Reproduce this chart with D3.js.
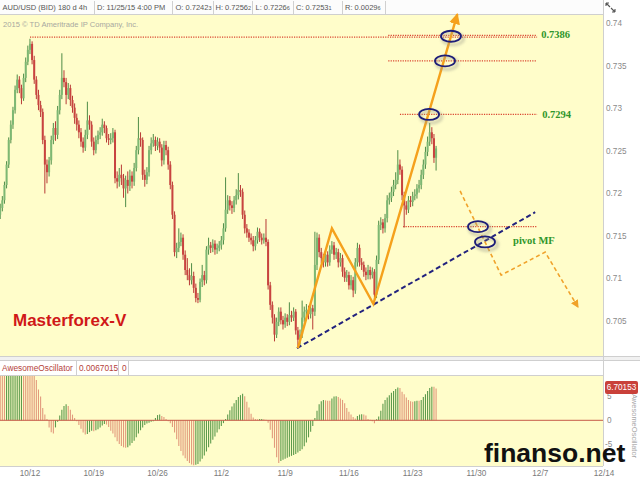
<!DOCTYPE html>
<html><head><meta charset="utf-8">
<script src="https://cdn.jsdelivr.net/npm/d3@7"></script>
<style>html,body{margin:0;padding:0;background:#fff;}svg{display:block;}</style>
</head><body>
<svg id="c" width="640" height="480"></svg>
<script>
// ---- DATA (prices in units of 0.0001) ----
const open = [7175,7183,7192,7210,7234,7263,7281,7298,7322,7334,
7324,7312,7336,7355,7369,7376,7357,7334,7316,7304,
7296,7263,7234,7225,7239,7263,7277,7269,7298,7316,
7336,7331,7316,7324,7310,7301,7289,7281,7272,7261,
7254,7269,7286,7281,7261,7251,7263,7269,7272,7281,
7277,7265,7263,7265,7272,7218,7214,7222,7218,7206,
7216,7209,7221,7214,7230,7251,7265,7263,7222,7216,
7225,7251,7259,7263,7256,7261,7254,7239,7257,7251,
7234,7210,7175,7131,7136,7143,7148,7128,7110,7104,
7098,7103,7089,7077,7075,7096,7104,7098,7134,7139,
7136,7141,7134,7136,7139,7145,7159,7181,7192,7186,
7183,7192,7198,7204,7202,7175,7159,7154,7148,7145,
7138,7145,7155,7148,7145,7148,7143,7092,7069,7054,
7034,7049,7061,7051,7046,7054,7049,7057,7054,7061,
7039,7028,7034,7054,7061,7063,7058,7065,7061,7116,
7148,7131,7124,7119,7128,7119,7134,7139,7128,7131,
7119,7124,7108,7101,7104,7092,7098,7086,7119,7136,
7119,7116,7108,7104,7110,7104,7108,7081,7122,7163,
7166,7159,7171,7192,7195,7202,7210,7216,7234,7228,
7198,7186,7181,7192,7190,7197,7199,7206,7210,7222,
7234,7249,7261,7272,7265,7242];
const high = [7188,7197,7214,7238,7266,7286,7302,7327,7340,7338,
7328,7341,7360,7374,7382,7379,7362,7338,7322,7309,
7300,7268,7240,7243,7268,7283,7285,7303,7322,7365,
7345,7336,7330,7328,7315,7306,7294,7286,7277,7266,
7275,7308,7292,7285,7266,7268,7274,7278,7288,7285,
7280,7270,7271,7277,7275,7226,7230,7234,7223,7221,
7226,7228,7226,7236,7256,7290,7272,7266,7228,7231,
7256,7266,7270,7267,7266,7265,7258,7262,7262,7255,
7238,7214,7179,7142,7159,7154,7152,7133,7124,7112,
7118,7108,7094,7083,7100,7116,7109,7138,7148,7143,
7146,7145,7141,7144,7150,7165,7219,7198,7197,7191,
7197,7205,7224,7210,7206,7180,7164,7158,7153,7150,
7150,7160,7159,7153,7153,7170,7146,7096,7073,7058,
7054,7066,7066,7056,7059,7058,7072,7062,7066,7064,
7043,7040,7074,7067,7070,7068,7072,7069,7155,7154,
7152,7136,7129,7133,7132,7139,7144,7143,7136,7135,
7130,7128,7113,7110,7108,7104,7102,7124,7142,7140,
7124,7120,7113,7116,7114,7113,7111,7127,7168,7172,
7170,7176,7198,7201,7208,7216,7225,7251,7240,7232,
7202,7191,7197,7197,7202,7205,7211,7216,7228,7240,
7255,7267,7283,7278,7270,7256];
const low = [7170,7179,7188,7206,7230,7259,7276,7294,7318,7318,
7305,7309,7331,7351,7364,7352,7329,7311,7298,7290,
7258,7200,7212,7220,7234,7258,7262,7264,7293,7311,
7325,7305,7311,7303,7295,7282,7274,7265,7255,7248,
7250,7264,7275,7255,7245,7247,7258,7264,7268,7271,
7260,7257,7258,7260,7212,7206,7208,7210,7195,7184,
7200,7203,7206,7209,7226,7246,7255,7216,7208,7211,
7220,7246,7255,7250,7251,7248,7232,7234,7245,7228,
7205,7170,7126,7124,7131,7138,7122,7104,7098,7092,
7093,7083,7072,7071,7072,7090,7092,7094,7128,7130,
7131,7128,7129,7132,7134,7140,7155,7176,7180,7176,
7178,7187,7193,7196,7170,7153,7148,7143,7140,7132,
7133,7141,7143,7140,7141,7138,7087,7063,7047,7026,
7030,7044,7046,7040,7042,7044,7045,7049,7050,7034,
7018,7022,7030,7049,7056,7052,7053,7040,7056,7110,
7125,7118,7113,7114,7114,7115,7129,7122,7123,7113,
7114,7102,7096,7096,7087,7087,7078,7082,7114,7114,
7110,7102,7098,7099,7099,7100,7071,7077,7117,7157,
7153,7154,7166,7187,7190,7197,7205,7211,7222,7192,
7160,7175,7177,7184,7185,7192,7194,7201,7205,7217,
7229,7244,7256,7258,7236,7227];
const close = [7183,7192,7210,7234,7263,7281,7298,7322,7334,7324,
7312,7336,7355,7369,7376,7357,7334,7316,7304,7296,
7263,7234,7225,7239,7263,7277,7269,7298,7316,7336,
7331,7316,7324,7310,7301,7289,7281,7272,7261,7254,
7269,7286,7281,7261,7251,7263,7269,7272,7281,7277,
7265,7263,7265,7272,7218,7214,7222,7218,7206,7216,
7209,7221,7214,7230,7251,7265,7263,7222,7216,7225,
7251,7259,7263,7256,7261,7254,7239,7257,7251,7234,
7210,7175,7131,7136,7143,7148,7128,7110,7104,7098,
7103,7089,7077,7075,7096,7104,7098,7134,7139,7136,
7141,7134,7136,7139,7145,7159,7181,7192,7186,7183,
7192,7198,7204,7202,7175,7159,7154,7148,7145,7138,
7145,7155,7148,7145,7148,7143,7092,7069,7054,7034,
7049,7061,7051,7046,7054,7049,7057,7054,7061,7039,
7028,7034,7054,7061,7063,7058,7065,7061,7116,7148,
7131,7124,7119,7128,7119,7134,7139,7128,7131,7119,
7124,7108,7101,7104,7092,7098,7086,7119,7136,7119,
7116,7108,7104,7110,7104,7108,7081,7122,7163,7166,
7159,7171,7192,7195,7202,7210,7216,7234,7228,7198,
7186,7181,7192,7190,7197,7199,7206,7210,7222,7234,
7249,7261,7272,7265,7242,7253];
// Awesome Oscillator (x1000)
const ao = [13.0,12.8,12.6,12.7,12.9,13.2,13.5,13.8,14.0,14.1,
14.2,14.1,13.9,13.5,13.0,12.4,10.5,8.5,6.5,5.0,
2.6,1.2,0.3,-1.5,-2.5,-2.8,-1.5,-0.3,1.0,2.2,
3.0,3.4,3.0,2.2,1.2,0.5,-0.2,-1.0,-1.8,-2.6,
-3.0,-2.9,-2.5,-2.2,-2.3,-2.1,-1.9,-1.5,-1.1,-0.8,
-0.9,-1.4,-2.2,-2.8,-3.6,-4.4,-5.0,-5.4,-5.7,-5.8,
-5.7,-5.3,-4.8,-4.3,-3.6,-2.8,-2.1,-1.5,-1.0,-0.7,
-0.5,-0.3,-0.2,0.5,1.1,1.2,0.9,0.7,0.3,-0.2,
-0.6,-1.4,-2.6,-4.0,-5.4,-6.5,-7.4,-8.0,-8.6,-9.0,
-9.3,-9.5,-9.4,-9.2,-8.7,-8.1,-7.4,-6.6,-5.7,-4.9,
-4.1,-3.4,-2.6,-1.9,-1.2,-0.6,0.3,1.2,2.1,2.9,
3.6,4.3,4.9,5.3,5.6,5.1,3.9,2.7,1.4,0.6,
0.3,0.2,0.25,0.3,0.2,0.1,-0.5,-2.0,-3.8,-5.8,
-7.8,-9.0,-8.6,-8.3,-8.1,-7.9,-7.7,-7.5,-7.3,-7.1,
-6.8,-6.5,-6.1,-5.5,-4.7,-3.6,-2.4,-1.2,0.5,2.0,
3.4,4.0,4.3,4.2,4.1,4.1,4.6,5.0,5.1,4.9,
4.6,4.3,3.6,2.6,1.8,1.2,0.7,0.4,0.9,1.2,
1.3,1.2,1.0,0.3,0.1,-0.2,-0.6,0.2,0.8,2.0,
3.5,4.3,4.8,5.3,5.8,6.2,6.6,6.9,6.8,6.0,
5.5,4.8,4.3,4.0,3.9,4.0,4.1,4.1,4.3,4.9,
5.5,6.2,6.8,7.1,7.1,6.7];
const dateTickBars = [14,44,74,104,134,164,194,224,254,284];
const dateTickLabels = ["10/12","10/19","10/26","11/2","11/9","11/16","11/23","11/30","12/7","12/14"];
const priceTicks = [0.74,0.735,0.73,0.725,0.72,0.715,0.71,0.705];
const priceTickLabels = ["0.74","0.735","0.73","0.725","0.72","0.715","0.71","0.705"];
const aoTicks = [5,0,-5];
// annotations: [bar index, price x1e4]
const zigzag = [[140,7018],[156,7159],[175.5,7070],[215,7411]];
const trendLine = [[139.6,7018],[251.6,7178]];
const levelFrom = [14,182.5,182.5,188,189.5];
const levelTo = [252.5,252.5,252.5,252.5,252.5];
const levelPrice = [7384,7386,7356,7293,7161];
const levelLabelText = ["0.7386","0.7294"];
const levelLabelPos = [[254.4,7387],[254.9,7293]];
const circles = [[212,7385],[209.2,7356],[201.7,7293],[224.7,7161],[228,7143]];
const forecast = [[216.3,7203],[235.6,7104],[256.3,7131],[271.8,7066]];
const pivotLabel = [[241.2,7145]];
const headerCells = [["AUD/USD (BID) 180 d 4h",""],["D: 11/25/15 4:00 PM",""],["O: 0.7242","3"],["H: 0.7256","2"],["L: 0.7226","6"],["C: 0.7253","1"],["R: 0.0029","6"]];
const aoHeader = ["AwesomeOscillator","0.0067015","0"];
const aoLast = "6.70153";

// ---- DRAWING ----
const svg = d3.select("#c");
const FONT = "'Liberation Sans', Arial, sans-serif";
const YEL = "#fffdca";
const P = v => v / 1e4;
const x = d3.scaleLinear().domain([0, 283.5]).range([0.2, 603]);
const y = d3.scaleLinear().domain([0.74, 0.705]).range([23.5, 321]);
const yA = d3.scaleLinear().domain([5, -5]).range([396.6, 444]);

const defs = svg.append("defs");
defs.append("clipPath").attr("id","clipMain").append("rect").attr("x",0).attr("y",15).attr("width",603).attr("height",341);
defs.append("clipPath").attr("id","clipAO").append("rect").attr("x",0).attr("y",376).attr("width",603).attr("height",90);
const f = defs.append("filter").attr("id","shadow").attr("x","-50%").attr("y","-50%").attr("width","200%").attr("height","200%");
f.append("feGaussianBlur").attr("stdDeviation",1.5);
defs.append("marker").attr("id","arrO").attr("viewBox","0 0 10 10").attr("refX",9).attr("refY",5)
  .attr("markerWidth",11).attr("markerHeight",11).attr("markerUnits","userSpaceOnUse").attr("orient","auto")
  .append("path").attr("d","M0,0 L10,5 L0,10 z").attr("fill","#f5a11c");
defs.append("marker").attr("id","arrF").attr("viewBox","0 0 10 10").attr("refX",9).attr("refY",5)
  .attr("markerWidth",8).attr("markerHeight",8).attr("markerUnits","userSpaceOnUse").attr("orient","auto")
  .append("path").attr("d","M0,0 L10,5 L0,10 z").attr("fill","#f0a22a");

// backgrounds
svg.append("rect").attr("width",640).attr("height",480).attr("fill","#ffffff");
svg.append("rect").attr("x",0).attr("y",0).attr("width",603).attr("height",14).attr("fill","#fcfcfc");
svg.append("rect").attr("x",0).attr("y",15).attr("width",603).attr("height",341).attr("fill",YEL);
svg.append("rect").attr("x",0).attr("y",356).attr("width",640).attr("height",4).attr("fill","#f1f1f1");
svg.append("rect").attr("x",0).attr("y",376).attr("width",603).attr("height",90).attr("fill",YEL);
const borders = [[0,14.5,603,14.5],[603.5,0,603.5,466],[0,356.5,640,356.5],[0,360.5,640,360.5],[0,375.5,603,375.5],[0,466.5,603,466.5]];
svg.append("g").selectAll("line").data(borders).join("line")
  .attr("x1",d=>d[0]).attr("y1",d=>d[1]).attr("x2",d=>d[2]).attr("y2",d=>d[3]).attr("stroke","#cfcfcf").attr("stroke-width",1);

// header
const hSep = [94,172,213,252,293,342,385];
const hX = [2.5,97,175.5,215.5,255.5,296,345];
const hg = svg.append("g").attr("font-family",FONT).attr("font-size",7.5).attr("fill","#555");
headerCells.forEach((c,i)=>{
  const t = hg.append("text").attr("x",hX[i]).attr("y",10.2);
  t.append("tspan").text(c[0]);
  if (c[1]) t.append("tspan").attr("font-size",5.5).text(c[1]);
});
hg.selectAll("line").data(hSep).join("line").attr("x1",d=>d+.5).attr("x2",d=>d+.5).attr("y1",1).attr("y2",14).attr("stroke","#d0d0d0");
// top-right icon
svg.append("path").attr("d","M606,3 L610,7 M606,3 L609,3 M606,3 L606,6 M615,12 L611,8 M615,12 L612,12 M615,12 L615,9")
  .attr("stroke","#555").attr("stroke-width",1.1).attr("fill","none");

svg.append("text").attr("x",3).attr("y",27).attr("font-family",FONT).attr("font-size",7.6).attr("fill","#a8a8a0")
  .text("2015 © TD Ameritrade IP Company, Inc.");

// price axis labels
svg.append("g").selectAll("text").data(priceTicks).join("text")
  .attr("x",606).attr("y",d=>y(d)).attr("dy","0.35em").attr("font-family",FONT).attr("font-size",8.2).attr("fill","#8a8a8a")
  .text((d,i)=>priceTickLabels[i]);

// level lines (behind candles)
const mainG = svg.append("g").attr("clip-path","url(#clipMain)");
mainG.append("g").selectAll("line").data(levelPrice).join("line")
  .attr("x1",(d,i)=>x(levelFrom[i])).attr("x2",(d,i)=>x(levelTo[i]))
  .attr("y1",d=>y(P(d))).attr("y2",d=>y(P(d)))
  .attr("stroke","#d9442e").attr("stroke-width",1.3).attr("stroke-dasharray","1.2,1.2");

// candles
const idx = d3.range(close.length);
const cg = mainG.append("g");
cg.selectAll("line").data(idx).join("line")
  .attr("x1",i=>x(i)).attr("x2",i=>x(i)).attr("y1",i=>y(P(high[i]))).attr("y2",i=>y(P(low[i])))
  .attr("stroke",i=>close[i]>=open[i]?"#4f8c47":"#b83a36").attr("stroke-width",1);
cg.selectAll("rect").data(idx).join("rect")
  .attr("x",i=>x(i)-1).attr("width",2)
  .attr("y",i=>y(P(Math.max(open[i],close[i]))))
  .attr("height",i=>Math.max(1,Math.abs(y(P(open[i]))-y(P(close[i])))))
  .attr("fill",i=>close[i]>=open[i]?"#7db873":"#c8433f");

// trend line
const line = d3.line().x(d=>x(d[0])).y(d=>y(P(d[1])));
mainG.append("path").attr("d",line(trendLine)).attr("fill","none")
  .attr("stroke","#22227e").attr("stroke-width",2).attr("stroke-dasharray","5,3");
// forecast dashed orange
mainG.append("path").attr("d",line(forecast)).attr("fill","none")
  .attr("stroke","#f0a22a").attr("stroke-width",1.6).attr("stroke-dasharray","4,3").attr("marker-end","url(#arrF)");
// zigzag orange
svg.append("path").attr("d",line(zigzag)).attr("fill","none")
  .attr("stroke","#f5a11c").attr("stroke-width",2.4).attr("stroke-linejoin","miter").attr("marker-end","url(#arrO)");

// ellipses
const eg = svg.append("g");
eg.selectAll("ellipse.s").data(circles).join("ellipse").attr("class","s")
  .attr("cx",d=>x(d[0])+2).attr("cy",d=>y(P(d[1]))+2.5).attr("rx",10.5).attr("ry",6)
  .attr("fill","none").attr("stroke","#9a9a8a").attr("stroke-width",2.5).attr("opacity",0.55).attr("filter","url(#shadow)");
eg.selectAll("ellipse.e").data(circles).join("ellipse").attr("class","e")
  .attr("cx",d=>x(d[0])).attr("cy",d=>y(P(d[1]))).attr("rx",10).attr("ry",5.5)
  .attr("fill","none").attr("stroke","#1d1d78").attr("stroke-width",1.8);

// green labels
svg.append("g").selectAll("text").data(levelLabelPos).join("text")
  .attr("x",d=>x(d[0])).attr("y",d=>y(P(d[1]))).attr("dy","0.35em")
  .attr("font-family","'Liberation Serif', 'DejaVu Serif', serif").attr("font-weight","bold").attr("font-size",10.5).attr("fill","#2f962a")
  .text((d,i)=>levelLabelText[i]);
svg.append("g").selectAll("text").data(pivotLabel).join("text")
  .attr("x",d=>x(d[0])).attr("y",d=>y(P(d[1]))).attr("dy","0.35em")
  .attr("font-family","'Liberation Serif', 'DejaVu Serif', serif").attr("font-weight","bold").attr("font-size",10.5).attr("fill","#2f962a")
  .text("pivot MF");

svg.append("text").attr("x",13).attr("y",326).attr("font-family",FONT).attr("font-weight","bold").attr("font-size",17)
  .attr("fill","#d01818").text("Masterforex-V");

// AO header
const aoX = [2,79,122]; const aoSep = [76,118,128];
svg.append("g").selectAll("text").data(aoHeader).join("text")
  .attr("x",(d,i)=>aoX[i]).attr("y",371).attr("font-family",FONT).attr("font-size",8.3).attr("fill","#b5423a").text(d=>d);
svg.append("g").selectAll("line").data(aoSep).join("line")
  .attr("x1",d=>d+.5).attr("x2",d=>d+.5).attr("y1",361).attr("y2",375).attr("stroke","#d0d0d0");

// AO histogram
const ag = svg.append("g").attr("clip-path","url(#clipAO)");
ag.selectAll("line").data(idx).join("line")
  .attr("x1",i=>x(i)).attr("x2",i=>x(i)).attr("y1",yA(0)).attr("y2",i=>yA(ao[i]))
  .attr("stroke",i=>(i>0 && ao[i]>ao[i-1])?"#5c9a4c":"#e29a7c").attr("stroke-width",1.1);
svg.append("line").attr("x1",0).attr("x2",603).attr("y1",yA(0)).attr("y2",yA(0)).attr("stroke","#c65a48").attr("stroke-width",1);

// AO axis
svg.append("g").selectAll("text").data(aoTicks).join("text")
  .attr("x",d=>d<0?605:607).attr("y",d=>yA(d)).attr("dy","0.35em").attr("font-family",FONT).attr("font-size",8.2).attr("fill","#8a8a8a")
  .text(d=>d);
svg.append("rect").attr("x",605).attr("y",381).attr("width",33).attr("height",13).attr("rx",2).attr("fill","#c9413a");
svg.append("text").attr("x",621.5).attr("y",387.5).attr("dy","0.35em").attr("text-anchor","middle").attr("font-family",FONT)
  .attr("font-size",8.2).attr("fill","#fff").text(aoLast);
svg.append("text").attr("transform","translate(631.5,394) rotate(90)").attr("font-family",FONT).attr("font-size",7.5)
  .attr("fill","#a8a8a8").text("AwesomeOscillator");

// date axis
svg.append("g").selectAll("text").data(dateTickBars).join("text")
  .attr("x",d=>x(d)).attr("y",476).attr("text-anchor","middle").attr("font-family",FONT).attr("font-size",8.2).attr("fill","#7a7a7a")
  .text((d,i)=>dateTickLabels[i]);

// watermark
svg.append("text").attr("x",484).attr("y",462).attr("font-family",FONT).attr("font-weight","bold").attr("font-size",26.5)
  .attr("fill","#111").text("finanso.net");
</script>
</body></html>
